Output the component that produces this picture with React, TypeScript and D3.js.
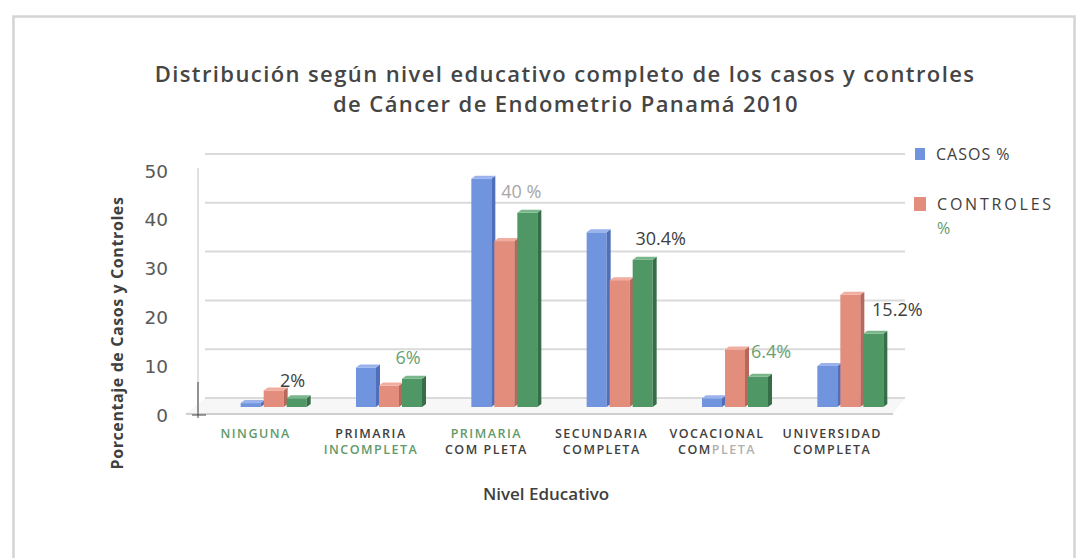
import React from 'react';
import * as d3 from 'd3';

const categories = ['NINGUNA', 'PRIMARIA INCOMPLETA', 'PRIMARIA COMPLETA', 'SECUNDARIA COMPLETA', 'VOCACIONAL COMPLETA', 'UNIVERSIDAD COMPLETA'];
const categoryLines = [['NINGUNA'], ['PRIMARIA', 'INCOMPLETA'], ['PRIMARIA', 'COM PLETA'], ['SECUNDARIA', 'COMPLETA'], ['VOCACIONAL', 'COMPLETA'], ['UNIVERSIDAD', 'COMPLETA']];
const casos = [1, 8.3, 47, 36, 2, 8.6];
const controles = [3.6, 4.6, 34.2, 26.2, 12, 23.2];
const totales = [2, 6, 40, 30.4, 6.4, 15.2];
const totalLabels = ['2%', '6%', '40 %', '30.4%', '6.4%', '15.2%'];
const yTicks = [0, 10, 20, 30, 40, 50];
const seriesNames = ['CASOS %', 'CONTROLES %', 'TOTAL %'];

// styling only
const labelLineColors = [['g'], ['d', 'g'], ['g', 'd'], ['d', 'd'], ['d', 'df'], ['d', 'd']];
const totalLabelStyle = [
  { dx: -4, dy: -15, c: '#404040' },
  { dx: -4, dy: -18, c: '#6aa173' },
  { dx: -6, dy: -18, c: '#a6a6a6' },
  { dx: 18, dy: -18, c: '#404040' },
  { dx: 13, dy: -22, c: '#6aa173' },
  { dx: 24, dy: -21, c: '#404040' },
];

const W = 1078;
const H = 558;
const colors = ['#7194df', '#e38d7c', '#4f9865'];
const sideColors = ['#4f6fb8', '#b8685a', '#356e47'];
const topColors = ['#9ab3ec', '#f0ada0', '#79b68b'];
const labelColor: Record<string, string> = { g: '#5f9a6b', d: '#404040', f: '#b0b0b0' };
const font = '"Open Sans", sans-serif';

const App: React.FC = () => {
  const x = d3.scaleBand<string>().domain(categories).range([198, 890]).padding(0);
  const y = d3.scaleLinear().domain([0, 50]).range([415, 171]);
  const inner = d3.scaleBand<string>().domain(seriesNames).range([-34, 35]).padding(0);

  const series = [casos, controles, totales];
  const depthX = 4;
  const depthY = 3;
  const barW = 20;
  const barBottom = y(0) - 8;
  const backShift = -17;

  const bars: JSX.Element[] = [];
  categories.forEach((c, ci) => {
    const cx = (x(c) ?? 0) + x.bandwidth() / 2 + 19;
    series.forEach((vals, si) => {
      const v = vals[ci];
      const x0 = cx + (inner(seriesNames[si]) ?? 0);
      const yt = y(v) - 10 + depthY;
      const x1 = x0 + barW;
      bars.push(
        <g key={`${ci}-${si}`}>
          <rect x={x0} y={yt} width={barW} height={Math.max(0, barBottom - yt)} fill={colors[si]} />
          <polygon
            points={`${x1},${yt} ${x1 + depthX},${yt - depthY} ${x1 + depthX},${barBottom - depthY} ${x1},${barBottom}`}
            fill={sideColors[si]}
          />
          <polygon
            points={`${x0},${yt} ${x0 + depthX},${yt - depthY} ${x1 + depthX},${yt - depthY} ${x1},${yt}`}
            fill={topColors[si]}
          />
        </g>
      );
    });
  });

  return (
    <svg width={W} height={H} style={{ position: 'absolute', left: 0, top: 0, background: '#fff' }}>
      <rect x={13.5} y={16.5} width={1061} height={560} fill="#fff" stroke="#d4d4d4" strokeWidth={2.5} />

      {/* title */}
      <text x={565} y={82} textAnchor="middle" fontFamily={font} fontSize={22} fontWeight={600} letterSpacing={1.4} fill="#454545">
        Distribución según nivel educativo completo de los casos y controles
      </text>
      <text x={566} y={112} textAnchor="middle" fontFamily={font} fontSize={22} fontWeight={600} letterSpacing={1.4} fill="#454545">
        de Cáncer de Endometrio Panamá 2010
      </text>

      {/* floor */}
      <polygon points={`186,${y(0) - 1} 893,${y(0) - 1} 905,${y(0) + backShift} 205,${y(0) + backShift}`} fill="#f7f7f7" />
      <line x1={186} x2={893} y1={y(0) - 1} y2={y(0) - 1} stroke="#cfcfcf" strokeWidth={2} />

      {/* gridlines on back wall */}
      {yTicks.map(t => (
        <line key={t} x1={205} x2={905} y1={y(t) + backShift} y2={y(t) + backShift} stroke="#dadada" strokeWidth={2} />
      ))}
      <line x1={198} x2={198} y1={168} y2={412} stroke="#d6d6d6" strokeWidth={1.5} />
      <line x1={198} x2={198} y1={382} y2={418} stroke="#444" strokeWidth={1} />
      <line x1={192} x2={206} y1={y(0)} y2={y(0)} stroke="#444" strokeWidth={1} />

      {/* y ticks */}
      {yTicks.map(t => (
        <text key={t} x={168} y={y(t)} dy="0.36em" textAnchor="end" fontFamily='"DejaVu Sans", sans-serif' fontSize={18.5} fill="#595959">
          {t}
        </text>
      ))}

      {bars}

      {/* data labels */}
      {categories.map((c, ci) => {
        const cx = (x(c) ?? 0) + x.bandwidth() / 2 + 19 + (inner(seriesNames[2]) ?? 0) + barW / 2;
        const st = totalLabelStyle[ci];
        return (
          <text key={c} x={cx + st.dx} y={y(totales[ci]) - 10 + st.dy} dy="0.35em" textAnchor="middle" fontFamily={font} fontSize={18} fill={st.c}>
            {totalLabels[ci]}
          </text>
        );
      })}

      {/* category labels */}
      {categories.map((c, ci) => (
        <text key={c} textAnchor="middle" fontFamily={font} fontSize={12.5} fontWeight={600} letterSpacing={1.5}>
          {categoryLines[ci].map((ln, li) => {
            const code = labelLineColors[ci][li];
            const cx = (x(c) ?? 0) + x.bandwidth() / 2;
            if (code === 'df') {
              return (
                <tspan key={li} x={cx} y={438 + li * 16}>
                  <tspan fill={labelColor.d}>{ln.slice(0, 3)}</tspan>
                  <tspan fill={labelColor.f}>{ln.slice(3)}</tspan>
                </tspan>
              );
            }
            return (
              <tspan key={li} x={cx} y={438 + li * 16} fill={labelColor[code]}>
                {ln}
              </tspan>
            );
          })}
        </text>
      ))}

      {/* axis titles */}
      <text x={546} y={500} textAnchor="middle" fontFamily={font} fontSize={17} fontWeight={600} fill="#404040">
        Nivel Educativo
      </text>
      <text transform="translate(123,333) rotate(-90)" textAnchor="middle" fontFamily={font} fontSize={16} fontWeight={700} letterSpacing={0.6} fill="#404040">
        Porcentaje de Casos y Controles
      </text>

      {/* legend */}
      <rect x={915} y={148} width={10} height={12} fill={colors[0]} />
      <text x={936} y={154} dy="0.35em" fontFamily={font} fontSize={16} letterSpacing={1} fill="#404040">
        CASOS %
      </text>
      <rect x={914} y={197} width={12} height={14} fill={colors[1]} />
      <text x={937} y={204} dy="0.35em" fontFamily={font} fontSize={16} letterSpacing={2.8} fill="#404040">
        CONTROLES
      </text>
      <text x={937} y={228} dy="0.35em" fontFamily={font} fontSize={16} fill="#5f9a6b">
        %
      </text>
    </svg>
  );
};

export default App;
